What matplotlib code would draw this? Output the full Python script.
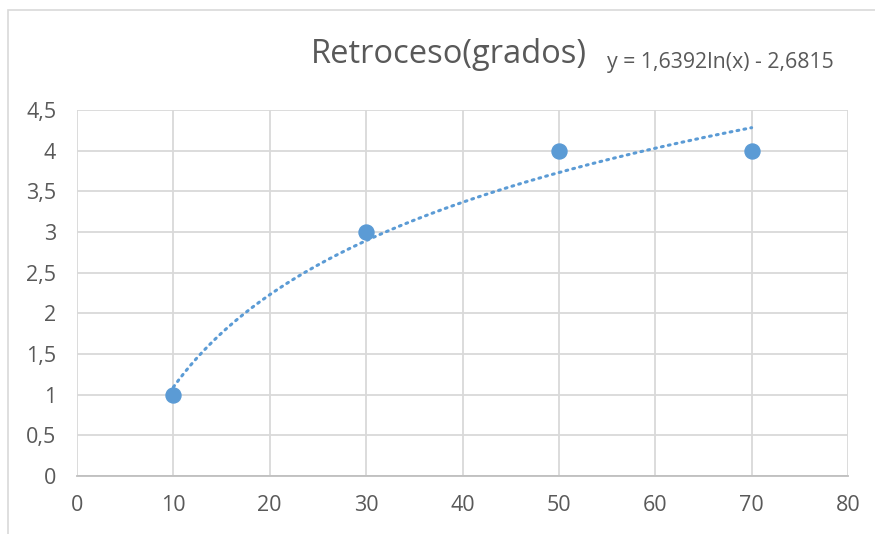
import numpy as np
import matplotlib
matplotlib.use("Agg")
import matplotlib.pyplot as plt
from matplotlib.patches import Rectangle

# Data
x_vals = [10, 30, 50, 70]
y_vals = [1, 3, 4, 4]
fit_a = 1.6392
fit_b = -2.6815
x_ticks = [0, 10, 20, 30, 40, 50, 60, 70, 80]
y_ticks = [0, 0.5, 1, 1.5, 2, 2.5, 3, 3.5, 4, 4.5]
y_tick_labels = ["0", "0,5", "1", "1,5", "2", "2,5", "3", "3,5", "4", "4,5"]
title = "Retroceso(grados)"
equation = "y = 1,6392ln(x) - 2,6815"

plt.rcParams["font.family"] = ["Open Sans", "DejaVu Sans"]

W, H = 875, 534
fig = plt.figure(figsize=(W / 100, H / 100), dpi=100)
fig.patch.set_facecolor("white")

# Chart frame (extends beyond right/bottom edges)
fig.add_artist(Rectangle((8 / W, -0.1), 1.2, 1 - 10 / H + 0.1, transform=fig.transFigure,
                         fill=False, edgecolor="#d9d9d9", linewidth=1.2))

ax = fig.add_axes([77 / W, 1 - 476 / H, (848 - 77) / W, (476 - 110) / H])
ax.set_xlim(0, 80)
ax.set_ylim(0, 4.5)
ax.set_xticks(x_ticks)
ax.set_yticks(y_ticks)
ax.set_yticklabels(y_tick_labels)
ax.grid(True, color="#d9d9d9", linewidth=1.3)
ax.set_axisbelow(True)
for side in ["top", "right", "left"]:
    ax.spines[side].set_visible(False)
ax.spines["bottom"].set_color("#bfbfbf")
ax.spines["bottom"].set_linewidth(1.3)
ax.tick_params(length=0, labelsize=15.5, colors="#595959")
ax.tick_params(axis="x", pad=14)
ax.tick_params(axis="y", pad=15)

# Logarithmic trendline
xt = np.linspace(x_vals[0], x_vals[-1], 200)
yt = fit_a * np.log(xt) + fit_b
ax.plot(xt, yt, color="#5b9bd5", linewidth=2.2, linestyle=(0, (0.6, 1.7)),
        dash_capstyle="round", zorder=3)

ax.plot(x_vals, y_vals, "o", color="#5b9bd5", markersize=10.8, zorder=4)

fig.text(448.5 / W, 1 - 63 / H, title, ha="center", va="baseline", fontsize=23.5, color="#595959")
fig.text(607 / W, 1 - 68 / H, equation, ha="left", va="baseline", fontsize=15.3, color="#595959")

fig.savefig("out.png", dpi=100)
